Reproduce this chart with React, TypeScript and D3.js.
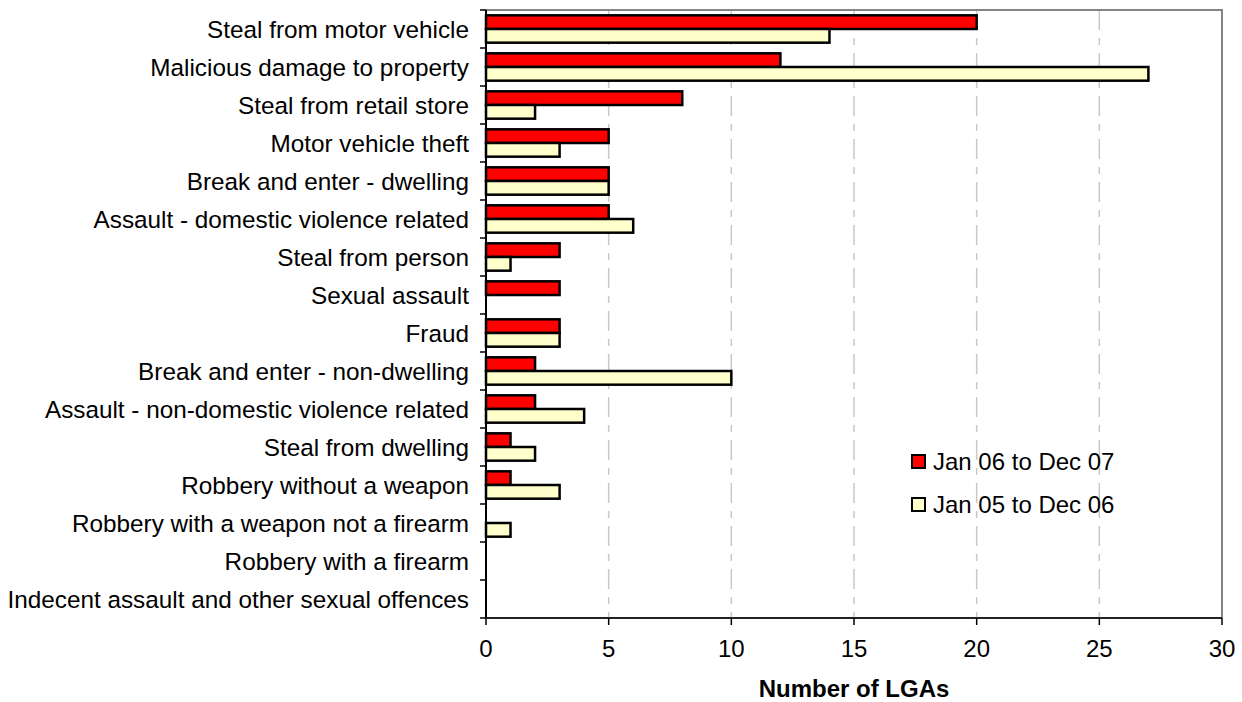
import * as d3 from "d3";

const categories = [
  "Steal from motor vehicle",
  "Malicious damage to property",
  "Steal from retail store",
  "Motor vehicle theft",
  "Break and enter - dwelling",
  "Assault - domestic violence related",
  "Steal from person",
  "Sexual assault",
  "Fraud",
  "Break and enter - non-dwelling",
  "Assault - non-domestic violence related",
  "Steal from dwelling",
  "Robbery without a weapon",
  "Robbery with a weapon not a firearm",
  "Robbery with a firearm",
  "Indecent assault and other sexual offences",
];

const jan06ToDec07 = [20, 12, 8, 5, 5, 5, 3, 3, 3, 2, 2, 1, 1, 0, 0, 0];
const jan05ToDec06 = [14, 27, 2, 3, 5, 6, 1, 0, 3, 10, 4, 2, 3, 1, 0, 0];

const seriesNames = ["Jan 06 to Dec 07", "Jan 05 to Dec 06"];
const seriesColors = ["#ff0000", "#ffffcc"];
const xTicks = [0, 5, 10, 15, 20, 25, 30];

const W = 1242;
const H = 702;
const left = 486;
const right = 1222;
const top = 10;
const bottom = 618;
const font = "Arial, 'Liberation Sans', sans-serif";

export default function App() {
  const x = d3.scaleLinear().domain([0, 30]).range([left, right]);
  const y = d3.scaleBand<string>().domain(categories).range([top, bottom]);
  const bw = y.bandwidth();
  const inner = d3
    .scaleBand<number>()
    .domain([0, 1])
    .range([bw * 0.14, bw * 0.86]);

  const series = [jan06ToDec07, jan05ToDec06];
  const bounds = d3.range(categories.length + 1).map((i) => top + i * bw);

  return (
    <svg
      width={W}
      height={H}
      style={{ position: "absolute", left: 0, top: 0, background: "#fff" }}
      fontFamily={font}
    >
      {/* grid */}
      {xTicks
        .filter((t) => t > 0 && t < 30)
        .map((t) => (
          <line
            key={"g" + t}
            x1={x(t)}
            x2={x(t)}
            y1={top}
            y2={bottom}
            stroke="#c8c8c8"
            strokeWidth={1.5}
            strokeDasharray="20,8,7,8"
          />
        ))}

      {/* frame top/right */}
      <path
        d={`M${left},${top}H${right}V${bottom}`}
        fill="none"
        stroke="#858585"
        strokeWidth={2}
      />

      {/* bars */}
      {categories.map((c, i) =>
        series.map((s, j) =>
          s[i] > 0 ? (
            <rect
              key={c + j}
              x={x(0)}
              y={(y(c) as number) + (inner(j) as number)}
              width={x(s[i]) - x(0)}
              height={inner.bandwidth()}
              fill={seriesColors[j]}
              stroke="#000"
              strokeWidth={2.5}
            />
          ) : null
        )
      )}

      {/* axes */}
      <line x1={left} x2={left} y1={top} y2={bottom} stroke="#000" strokeWidth={2} />
      <line x1={left} x2={right} y1={bottom} y2={bottom} stroke="#222" strokeWidth={2} />
      {bounds.map((b, i) => (
        <line key={"yt" + i} x1={left - 6} x2={left} y1={b} y2={b} stroke="#000" strokeWidth={1.5} />
      ))}
      {xTicks.map((t) => (
        <g key={"xt" + t}>
          <line x1={x(t)} x2={x(t)} y1={bottom} y2={bottom + 7} stroke="#000" strokeWidth={1.5} />
          <text x={x(t)} y={bottom + 39} textAnchor="middle" fontSize={24}>
            {t}
          </text>
        </g>
      ))}

      {/* category labels */}
      {categories.map((c) => (
        <text
          key={"l" + c}
          x={left - 17}
          y={(y(c) as number) + bw / 2 + 8.5}
          textAnchor="end"
          fontSize={24.3}
        >
          {c}
        </text>
      ))}

      <text
        x={(left + right) / 2}
        y={697}
        textAnchor="middle"
        fontSize={24}
        fontWeight="bold"
      >
        Number of LGAs
      </text>

      {/* legend */}
      {seriesNames.map((n, j) => (
        <g key={"lg" + n} transform={`translate(912,${455 + j * 43})`}>
          <rect width={13} height={13} fill={seriesColors[j]} stroke="#000" strokeWidth={2} />
          <text x={21} y={15} fontSize={24}>
            {n}
          </text>
        </g>
      ))}
    </svg>
  );
}
